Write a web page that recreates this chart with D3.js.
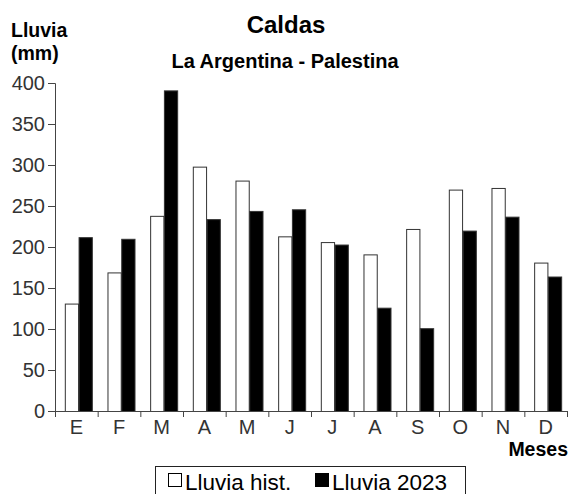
<!DOCTYPE html>
<html>
<head>
<meta charset="utf-8">
<script src="https://cdn.jsdelivr.net/npm/d3@7"></script>
<style>
  html, body { margin: 0; padding: 0; background: #fff; }
  svg { display: block; font-family: "Liberation Sans", Arial, sans-serif; }
</style>
</head>
<body>
<svg id="chart" width="569" height="494"></svg>
<script>
const months = ["E","F","M","A","M","J","J","A","S","O","N","D"];
const lluviaHist = [131, 169, 238, 298, 281, 213, 206, 191, 222, 270, 272, 181];
const lluvia2023 = [212, 210, 391, 234, 244, 246, 203, 126, 101, 220, 237, 164];
const seriesNames = ["Lluvia hist.", "Lluvia 2023"];
const seriesFill = ["#ffffff", "#000000"];
const yTicks = [0, 50, 100, 150, 200, 250, 300, 350, 400];

(function () {
const svg = d3.select("#chart");
const pL = 55, pR = 567, pT = 83, pB = 411;

const x0 = d3.scaleBand().domain(d3.range(months.length)).range([pL, pR]).padding(0);
const bw = x0.bandwidth();
const x1 = d3.scaleBand().domain([0, 1]).range([bw * 0.23, bw * 0.875]).padding(0);
const y = d3.scaleLinear().domain([0, 400]).range([pB, pT]);
const xb = d3.scaleLinear().domain([0, 12]).range([pL, pR]);

// Bars
const data = months.map((m, i) => ({ i, vals: [lluviaHist[i], lluvia2023[i]] }));
const g = svg.append("g");
const grp = g.selectAll("g.m").data(data).join("g")
  .attr("transform", d => `translate(${x0(d.i)},0)`);
grp.selectAll("rect").data(d => d.vals.map((v, k) => ({ v, k }))).join("rect")
  .attr("x", d => x1(d.k) + 0.5)
  .attr("y", d => y(d.v) + 0.5)
  .attr("width", x1.bandwidth() - 0.5)
  .attr("height", d => pB - y(d.v))
  .attr("fill", d => seriesFill[d.k])
  .attr("stroke", "#333")
  .attr("stroke-width", 1);

// Y axis
const yAxis = svg.append("g").attr("transform", `translate(${pL},0)`)
  .call(d3.axisLeft(y).tickValues(yTicks).tickSize(7).tickSizeOuter(7).tickPadding(3));
yAxis.selectAll("text").attr("font-size", 20).attr("fill", "#333")
  .attr("font-family", "Liberation Sans, Arial, sans-serif");
yAxis.selectAll("line, path").attr("stroke", "#444");

// X axis ticks (band boundaries)
const xTickAxis = svg.append("g").attr("transform", `translate(0,${pB})`)
  .call(d3.axisBottom(xb).tickValues(d3.range(0, 13)).tickSize(6).tickSizeOuter(0).tickFormat(""));
xTickAxis.selectAll("line, path").attr("stroke", "#444");

// X axis labels
const xLab = svg.append("g").attr("transform", `translate(0,${pB})`)
  .call(d3.axisBottom(x0).tickSize(0).tickPadding(9).tickFormat(i => months[i]));
xLab.select(".domain").remove();
xLab.selectAll("text").attr("font-size", 20).attr("fill", "#333")
  .attr("font-family", "Liberation Sans, Arial, sans-serif");

// Titles
svg.append("text").attr("x", 286).attr("y", 33).attr("text-anchor", "middle")
  .attr("font-size", 24).attr("font-weight", "bold").text("Caldas");
svg.append("text").attr("x", 285).attr("y", 68).attr("text-anchor", "middle")
  .attr("font-size", 20).attr("font-weight", "bold").text("La Argentina - Palestina");
svg.append("text").attr("x", 11).attr("y", 37).attr("font-size", 19.5)
  .attr("font-weight", "bold").text("Lluvia");
svg.append("text").attr("x", 11).attr("y", 60).attr("font-size", 19.5)
  .attr("font-weight", "bold").text("(mm)");
svg.append("text").attr("x", 568).attr("y", 456).attr("text-anchor", "end")
  .attr("font-size", 19.5).attr("font-weight", "bold").text("Meses");

// Legend
const leg = svg.append("g");
leg.append("rect").attr("x", 155.5).attr("y", 466.5).attr("width", 310).attr("height", 40)
  .attr("fill", "none").attr("stroke", "#222").attr("stroke-width", 1);
const legX = [168, 315];
seriesNames.forEach((name, k) => {
  leg.append("rect").attr("x", legX[k] + 0.5).attr("y", 473.5).attr("width", 13).attr("height", 13)
    .attr("fill", seriesFill[k]).attr("stroke", "#000").attr("stroke-width", 1);
  leg.append("text").attr("x", legX[k] + 17).attr("y", 489.5).attr("font-size", 22.5)
    .attr("fill", "#000").text(name);
});
})();
</script>
</body>
</html>
